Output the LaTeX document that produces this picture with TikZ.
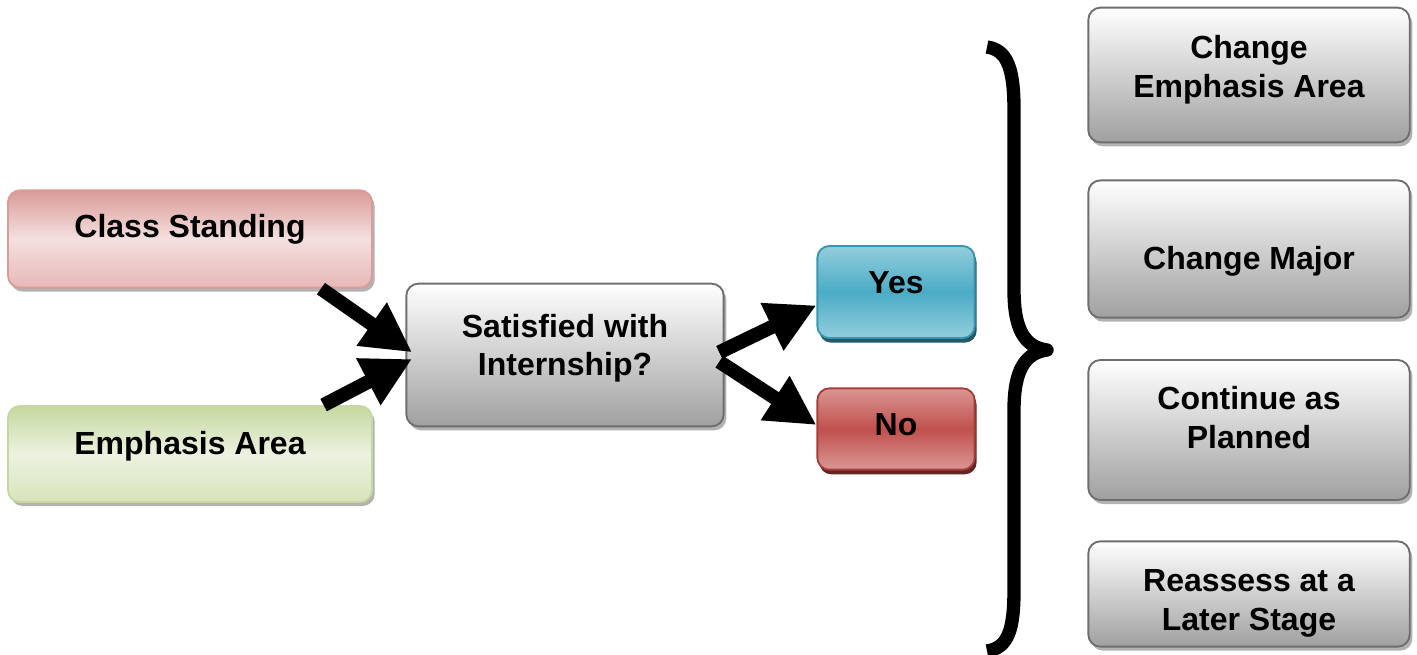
\documentclass[tikz,border=0pt]{standalone}
\usepackage{fontspec}
\setmainfont{Liberation Sans}
\usetikzlibrary{arrows.meta,shadows}

\definecolor{grayline}{HTML}{6E6E6E}
\definecolor{grayend}{HTML}{A0A0A0}
\definecolor{pinkdark}{HTML}{DA9B99}
\definecolor{pinkmid}{HTML}{E6B8B7}
\definecolor{pinklight}{HTML}{F3E0DF}
\definecolor{greendark}{HTML}{C6D8A0}
\definecolor{greenmid}{HTML}{D8E4BC}
\definecolor{greenlight}{HTML}{ECF2E0}
\definecolor{yesmid}{HTML}{4BACC6}
\definecolor{yeslight}{HTML}{93CDDD}
\definecolor{yesline}{HTML}{3A96B0}
\definecolor{yesshadow}{HTML}{215968}
\definecolor{nomid}{HTML}{C0504D}
\definecolor{nolight}{HTML}{DA9694}
\definecolor{noline}{HTML}{A63E3B}
\definecolor{noshadow}{HTML}{632523}

\tikzset{
  box/.style={rounded corners=9pt, line width=1.4pt, align=center,
    font=\bfseries\fontsize{24}{29}\selectfont, inner sep=2pt},
  graybox/.style={box, draw=grayline, top color=white, bottom color=grayend,
    drop shadow={shadow xshift=2pt, shadow yshift=-3pt, fill=black, opacity=.3}},
  pinkbox/.style={box, draw=pinkdark, top color=pinkdark, bottom color=pinkmid, middle color=pinklight,
    drop shadow={shadow xshift=2pt, shadow yshift=-3pt, fill=black, opacity=.3}},
  greenbox/.style={box, draw=greendark, top color=greendark, bottom color=greenmid, middle color=greenlight,
    drop shadow={shadow xshift=2pt, shadow yshift=-3pt, fill=black, opacity=.3}},
  yesbox/.style={box, draw=yesline, top color=yeslight, bottom color=yeslight, middle color=yesmid,
    drop shadow={shadow xshift=1.5pt, shadow yshift=-3.5pt, fill=yesshadow, opacity=1}},
  nobox/.style={box, draw=noline, top color=nolight, bottom color=nolight, middle color=nomid,
    drop shadow={shadow xshift=1.5pt, shadow yshift=-3.5pt, fill=noshadow, opacity=1}},
  bigarrow/.style={line width=10.5pt, -{Triangle[length=37pt,width=37pt]}}
}

\begin{document}
\begin{tikzpicture}[x=0.75pt, y=-0.75pt]
  \useasboundingbox (0,0) rectangle (1417,654);

  % inputs
  \node[pinkbox, minimum width=273pt, minimum height=73pt, text depth=20pt] (cs) at (190,239) {Class Standing};
  \node[greenbox, minimum width=273pt, minimum height=72pt, text depth=17pt] (ea) at (190,454) {Emphasis Area};

  % question and answers
  \node[graybox, minimum width=238pt, minimum height=107pt, text depth=15pt] (sat) at (565,355) {Satisfied with\\Internship?};
  \node[yesbox, minimum width=118pt, minimum height=69pt, text depth=15pt] (yes) at (896,292) {Yes};
  \node[nobox, minimum width=118pt, minimum height=61pt, text depth=7.5pt] (no) at (896,429) {No};

  % outcomes
  \node[graybox, minimum width=241pt, minimum height=101pt, text depth=13pt] (chea) at (1249,75) {Change\\Emphasis Area};
  \node[graybox, minimum width=241pt, minimum height=103pt, text height=35.5pt] (chmaj) at (1249,249) {Change Major};
  \node[graybox, minimum width=241pt, minimum height=105pt, text depth=19pt] (cont) at (1249,430) {Continue as\\Planned};
  \node[graybox, minimum width=241pt, minimum height=79pt, text height=60pt] (reas) at (1249,594) {Reassess at a\\Later Stage};

  \draw[bigarrow] ([xshift=-39pt]cs.south east) -- ([xshift=5pt,yshift=2pt]sat.west);
  \draw[bigarrow] ([xshift=-37pt]ea.north east) -- ([xshift=5pt,yshift=-3pt]sat.west);
  \draw[bigarrow] ([xshift=-4pt,yshift=2pt]sat.east) -- ([yshift=-10pt]yes.west);
  \draw[bigarrow] ([xshift=-4pt,yshift=-5pt]sat.east) -- ([yshift=3pt]no.west);

  % brace
  \draw[line width=10pt, line join=round]
    (987,47) .. controls (1008,50) and (1014,70) .. (1014,110) -- (1014,290)
    .. controls (1014,330) and (1025,347) .. (1047,350)
    .. controls (1025,353) and (1014,370) .. (1014,410) -- (1014,590)
    .. controls (1014,630) and (1008,648) .. (987,651);
\end{tikzpicture}
\end{document}
